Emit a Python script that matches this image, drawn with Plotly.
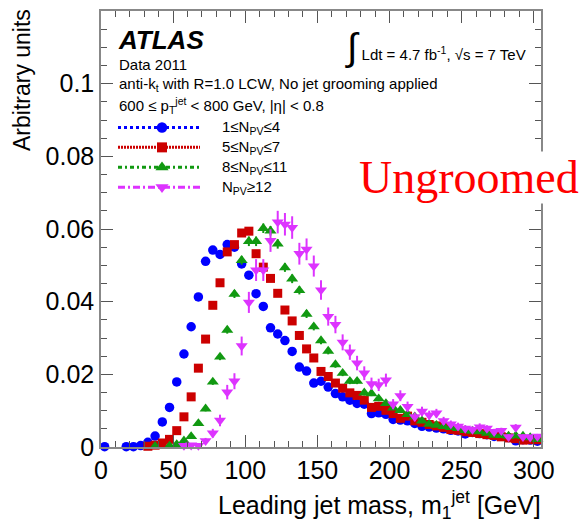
import plotly.graph_objects as go

# Bin centres (5 GeV bins) and normalised leading-jet mass distributions per N_PV range
mass_blue = [2.5, 17.5, 22.5, 27.5, 32.5, 37.5, 42.5, 47.5, 52.5, 57.5, 62.5, 67.5, 72.5, 77.5,
             82.5, 87.5, 92.5, 97.5, 102.5, 107.5, 112.5, 117.5, 122.5, 127.5, 132.5, 137.5,
             142.5, 147.5, 152.5, 157.5, 162.5, 167.5, 172.5, 177.5, 182.5, 187.5, 192.5, 197.5,
             202.5, 207.5, 212.5, 217.5, 222.5, 227.5, 232.5, 237.5, 242.5, 247.5, 252.5, 257.5,
             262.5, 267.5, 272.5, 277.5, 282.5, 287.5, 292.5, 297.5, 302.5]
npv_1_4 = [0.0001, 0.0001, 0.0001, 0.0004, 0.0013, 0.0030, 0.0069, 0.0109, 0.0179, 0.0256, 0.0331,
           0.0413, 0.0511, 0.0542, 0.0530, 0.0557, 0.0550, 0.0504, 0.0473, 0.0422, 0.0387, 0.0328,
           0.0311, 0.0293, 0.0263, 0.0220, 0.0209, 0.0176, 0.0181, 0.0165, 0.0147, 0.0138, 0.0129,
           0.0120, 0.0118, 0.0092, 0.0094, 0.0090, 0.0076, 0.0074, 0.0072, 0.0065, 0.0057, 0.0055,
           0.0052, 0.0050, 0.0046, 0.0044, 0.0036, 0.0040, 0.0037, 0.0034, 0.0029, 0.0030, 0.0026,
           0.0017, 0.0020, 0.0019, 0.0016]

mass_red = [32.5, 37.5, 42.5, 47.5, 52.5, 57.5, 62.5, 67.5, 72.5, 77.5, 82.5, 87.5, 92.5, 97.5,
            102.5, 107.5, 112.5, 117.5, 122.5, 127.5, 132.5, 137.5, 142.5, 147.5, 152.5, 157.5,
            162.5, 167.5, 172.5, 177.5, 182.5, 187.5, 192.5, 197.5, 202.5, 207.5, 212.5, 217.5,
            222.5, 227.5, 232.5, 237.5, 242.5, 247.5, 252.5, 257.5, 262.5, 267.5, 272.5, 277.5,
            282.5, 287.5, 292.5, 297.5, 302.5]
npv_5_7 = [0.0002, 0.0005, 0.0011, 0.0021, 0.0045, 0.0083, 0.0138, 0.0217, 0.0297, 0.0390, 0.0452,
           0.0537, 0.0557, 0.0589, 0.0594, 0.0532, 0.0495, 0.0464, 0.0423, 0.0377, 0.0347, 0.0307,
           0.0270, 0.0245, 0.0208, 0.0194, 0.0176, 0.0162, 0.0149, 0.0142, 0.0129, 0.0109, 0.0112,
           0.0101, 0.0092, 0.0079, 0.0085, 0.0072, 0.0068, 0.0062, 0.0058, 0.0054, 0.0048, 0.0046,
           0.0042, 0.0040, 0.0037, 0.0034, 0.0032, 0.0028, 0.0025, 0.0023, 0.0019, 0.0020, 0.0020]

mass_green = [37.5, 47.5, 52.5, 57.5, 62.5, 67.5, 72.5, 77.5, 82.5, 87.5, 92.5, 97.5, 102.5,
              107.5, 112.5, 117.5, 122.5, 127.5, 132.5, 137.5, 142.5, 147.5, 152.5, 157.5, 162.5,
              167.5, 172.5, 177.5, 182.5, 187.5, 192.5, 197.5, 202.5, 207.5, 212.5, 217.5, 222.5,
              227.5, 232.5, 237.5, 242.5, 247.5, 252.5, 257.5, 262.5, 267.5, 272.5, 277.5, 282.5,
              287.5, 292.5, 297.5, 302.5]
npv_8_11 = [0.0002, 0.0003, 0.0007, 0.0017, 0.0029, 0.0065, 0.0105, 0.0179, 0.0248, 0.0322, 0.0421,
            0.0514, 0.0566, 0.0566, 0.0602, 0.0595, 0.0559, 0.0494, 0.0463, 0.0431, 0.0366, 0.0331,
            0.0293, 0.0264, 0.0227, 0.0203, 0.0181, 0.0181, 0.0149, 0.0147, 0.0133, 0.0120, 0.0108,
            0.0101, 0.0090, 0.0083, 0.0072, 0.0063, 0.0060, 0.0057, 0.0054, 0.0051, 0.0046, 0.0044,
            0.0042, 0.0038, 0.0033, 0.0032, 0.0030, 0.0031, 0.0030, 0.0026, 0.0021]
err_8_11 = [0.0002, 0.0002, 0.0003, 0.0004, 0.0005, 0.0006, 0.0007, 0.0008, 0.0009, 0.0010, 0.0011,
            0.0012, 0.0013, 0.0013, 0.0013, 0.0013, 0.0013, 0.0012, 0.0012, 0.0011, 0.0011, 0.0010,
            0.0010, 0.0009, 0.0009, 0.0008, 0.0008, 0.0008, 0.0007, 0.0007, 0.0007, 0.0006, 0.0006,
            0.0006, 0.0005, 0.0005, 0.0005, 0.0005, 0.0004, 0.0004, 0.0004, 0.0004, 0.0004, 0.0004,
            0.0004, 0.0003, 0.0003, 0.0003, 0.0003, 0.0003, 0.0003, 0.0003, 0.0003]

mass_magenta = [57.5, 62.5, 67.5, 72.5, 77.5, 82.5, 87.5, 92.5, 97.5, 102.5, 107.5, 112.5, 117.5,
                122.5, 127.5, 132.5, 137.5, 142.5, 147.5, 152.5, 157.5, 162.5, 167.5, 172.5,
                177.5, 182.5, 187.5, 192.5, 197.5, 202.5, 207.5, 212.5, 217.5, 222.5, 227.5,
                232.5, 237.5, 242.5, 247.5, 252.5, 257.5, 262.5, 267.5, 272.5, 277.5, 282.5,
                287.5, 292.5, 297.5, 302.5]
npv_12 = [0.0004, 0.0005, 0.0004, 0.0017, 0.0038, 0.0073, 0.0151, 0.0181, 0.0278, 0.0398, 0.0487,
          0.0487, 0.0568, 0.0619, 0.0613, 0.0604, 0.0532, 0.0544, 0.0498, 0.0432, 0.0359, 0.0337,
          0.0288, 0.0261, 0.0231, 0.0203, 0.0174, 0.0171, 0.0184, 0.0118, 0.0141, 0.0111, 0.0083,
          0.0098, 0.0088, 0.0093, 0.0072, 0.0063, 0.0057, 0.0051, 0.0048, 0.0055, 0.0051, 0.0042,
          0.0045, 0.0028, 0.0054, 0.0028, 0.0027, 0.0029]
err_12 = [0.0004, 0.0004, 0.0004, 0.0008, 0.0012, 0.0016, 0.0020, 0.0022, 0.0026, 0.0029, 0.0030,
          0.0030, 0.0031, 0.0031, 0.0031, 0.0031, 0.0030, 0.0030, 0.0029, 0.0027, 0.0025, 0.0024,
          0.0022, 0.0021, 0.0020, 0.0019, 0.0017, 0.0017, 0.0018, 0.0014, 0.0015, 0.0014, 0.0012,
          0.0013, 0.0012, 0.0012, 0.0011, 0.0010, 0.0010, 0.0009, 0.0009, 0.0010, 0.0009, 0.0008,
          0.0008, 0.0007, 0.0009, 0.0007, 0.0007, 0.0007]

legend_labels = ["1≤N<sub>PV</sub>≤4", "5≤N<sub>PV</sub>≤7", "8≤N<sub>PV</sub>≤11", "N<sub>PV</sub>≥12"]
x_ticks = [0, 50, 100, 150, 200, 250, 300]
y_ticks = [0, 0.02, 0.04, 0.06, 0.08, 0.1]
y_ticktext = ["0", "0.02", "0.04", "0.06", "0.08", "0.1"]

FONT = "Liberation Sans, Arial, Helvetica, sans-serif"
BLUE, RED, GREEN, MAGENTA = "#0000ff", "#cc0000", "#119911", "#dd33ff"

series = [
    (mass_blue, npv_1_4, None, BLUE, "circle", 9.5, "3px,3px"),
    (mass_red, npv_5_7, None, RED, "square", 9, "2px,1px"),
    (mass_green, npv_8_11, err_8_11, GREEN, "triangle-up", 10.5, "4px,3px,2px,3px"),
    (mass_magenta, npv_12, err_12, MAGENTA, "triangle-down", 10.5, "7px,3px,2px,3px"),
]

fig = go.Figure()
for xs, ys, errs, col, sym, sz, dash in series:
    fig.add_trace(go.Scatter(
        x=xs, y=ys, mode="markers", cliponaxis=False, showlegend=False,
        marker=dict(symbol=sym, size=sz, color=col, line=dict(width=0)),
        error_y=(dict(type="data", array=errs, visible=True, color=col, thickness=2, width=0)
                 if errs is not None else None),
    ))

# hand-drawn legend on an overlay axis pair spanning the plot area in [0, 1]
W, H, X0, Y0 = 440.0, 438.0, 101.0, 447.0


def px(x):
    return (x - X0) / W


def py(y):
    return (Y0 - y) / H


rows = [126, 146, 166, 186]
for (xs, ys, errs, col, sym, sz, dash), row, lab in zip(series, rows, legend_labels):
    fig.add_trace(go.Scatter(
        x=[px(118), px(200)], y=[py(row), py(row)], mode="lines", xaxis="x2", yaxis="y2",
        line=dict(color=col, width=3, dash=dash), showlegend=False, hoverinfo="skip",
        cliponaxis=False))
    fig.add_trace(go.Scatter(
        x=[px(162)], y=[py(row)], mode="markers", xaxis="x2", yaxis="y2",
        marker=dict(symbol=sym, size=sz + 1, color=col), showlegend=False, hoverinfo="skip",
        cliponaxis=False))
    fig.add_annotation(x=px(220), y=py(row), xref="paper", yref="paper", text=lab,
                       showarrow=False, xanchor="left", yanchor="middle",
                       font=dict(family=FONT, size=15, color="black"))

axis_common = dict(
    showline=True, linecolor="#888888", linewidth=1.5, mirror="allticks",
    ticks="inside", ticklen=12, tickwidth=1, tickcolor="#555555",
    showgrid=False, zeroline=False,
    tickfont=dict(family=FONT, size=25, color="black"),
)

fig.update_layout(
    width=585, height=527,
    margin=dict(l=101, r=44, t=9, b=80, pad=0),
    paper_bgcolor="white", plot_bgcolor="white",
    xaxis=dict(range=[0, 305], tickvals=x_ticks,
               minor=dict(ticks="inside", ticklen=6, dtick=10, tick0=0, tickcolor="#555555", showgrid=False),
               **axis_common),
    yaxis=dict(range=[0, 0.12], tickvals=y_ticks, ticktext=y_ticktext,
               minor=dict(ticks="inside", ticklen=6, dtick=0.005, tick0=0, tickcolor="#555555", showgrid=False),
               **axis_common),
    xaxis2=dict(overlaying="x", range=[0, 1], visible=False),
    yaxis2=dict(overlaying="y", range=[0, 1], visible=False),
)

texts = [
    dict(x=px(116), y=py(38), text="<b><i>ATLAS</i></b>", size=26, xanchor="left"),
    dict(x=px(117), y=py(63), text="Data 2011", size=15, xanchor="left"),
    dict(x=px(117), y=py(83), text="anti-k<sub>t</sub> with R=1.0 LCW, No jet grooming applied",
         size=15, xanchor="left"),
    dict(x=px(117), y=py(104), text="600 ≤ p<sub>T</sub><sup>jet</sup> < 800 GeV, |η| < 0.8",
         size=15, xanchor="left"),
    dict(x=px(528), y=py(46),
         text="<span style='font-size:38px'>∫</span> Ldt = 4.7 fb<sup>-1</sup>, √s = 7 TeV",
         size=15, xanchor="right"),
]
for t in texts:
    fig.add_annotation(x=t["x"], y=t["y"], xref="paper", yref="paper", text=t["text"],
                       showarrow=False, xanchor=t["xanchor"], yanchor="middle",
                       font=dict(family=FONT, size=t["size"], color="black"))

# axis titles, ROOT style (aligned to the axis ends)
fig.add_annotation(x=px(22), y=py(5), xref="paper", yref="paper", text="Arbitrary units",
                   textangle=-90, showarrow=False, xanchor="center", yanchor="top",
                   font=dict(family=FONT, size=23, color="black"))
fig.add_annotation(x=px(216), y=py(505), xref="paper", yref="paper",
                   text="Leading jet mass, m<sub>1</sub><sup>jet</sup> [GeV]",
                   showarrow=False, xanchor="left", yanchor="middle",
                   font=dict(family=FONT, size=25, color="black"))

fig.add_annotation(x=px(580), y=py(176), xref="paper", yref="paper", text="Ungroomed",
                   showarrow=False, xanchor="right", yanchor="middle", bgcolor="white",
                   borderpad=0,
                   font=dict(family="Liberation Serif, Times New Roman, serif", size=46, color="#ff0000"))

fig.write_html("out.html")
